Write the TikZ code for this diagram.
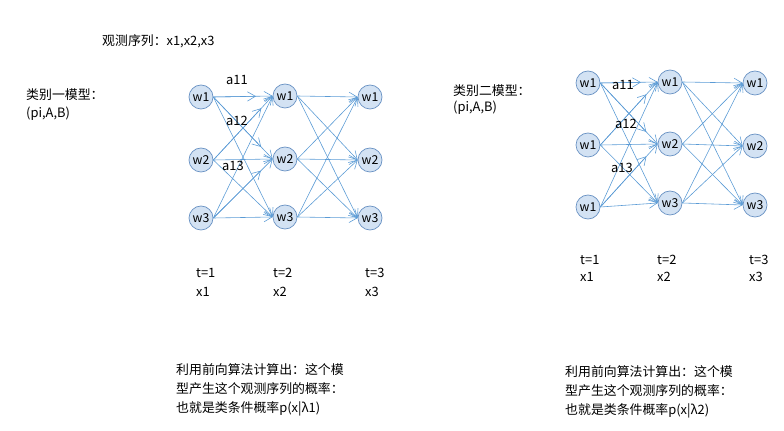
\documentclass[tikz,border=0pt]{standalone}
\usepackage{fontspec}
\setmainfont{Noto Sans CJK SC}
\usetikzlibrary{arrows.meta}
\definecolor{hmmline}{HTML}{5B9BD5}
\definecolor{hmmfill}{HTML}{D3E2F3}
\definecolor{hmmedge}{HTML}{6A93C4}

\tikzset{
  hmmstate/.style={circle, draw=hmmedge, fill=hmmfill, line width=0.6pt,
    minimum size=0.72cm, inner sep=0pt, font=\fontsize{10.5}{12}\selectfont},
  trans/.style={draw=hmmline, line width=0.5pt,
    -{Straight Barb[length=2.4mm,width=2.8mm]}},
  txt/.style={anchor=west, inner sep=0pt},
  note/.style={anchor=north west, inner sep=0pt, align=left,
    font=\fontsize{11}{16.4}\selectfont}
}

\begin{document}
\begin{tikzpicture}[x=0.03cm, y=-0.03cm, font=\fontsize{11}{14}\selectfont]
  \useasboundingbox (0,0) rectangle (784,431);

  % titles
  \node[txt] (obs) at (102,41) {观测序列：x1,x2,x3};
  \node[txt] (cls1) at (26,95) {类别一模型：};
  \node[txt] (par1) at (26,114) {(pi,A,B)};
  \node[txt] (cls2) at (453,91) {类别二模型：};
  \node[txt] (par2) at (453,108) {(pi,A,B)};

  % model 1 states
  \node[hmmstate] (La1) at (201,97) {w1};
  \node[hmmstate] (La2) at (201,160) {w2};
  \node[hmmstate] (La3) at (201,218) {w3};
  \node[hmmstate] (Lb1) at (285,96) {w1};
  \node[hmmstate] (Lb2) at (285,159) {w2};
  \node[hmmstate] (Lb3) at (285,217) {w3};
  \node[hmmstate] (Lc1) at (370,97) {w1};
  \node[hmmstate] (Lc2) at (370,160) {w2};
  \node[hmmstate] (Lc3) at (370,218) {w3};

  % model 2 states
  \node[hmmstate] (Ra1) at (588,83) {w1};
  \node[hmmstate] (Ra2) at (588,145) {w1};
  \node[hmmstate] (Ra3) at (588,207) {w1};
  \node[hmmstate] (Rb1) at (670,82) {w1};
  \node[hmmstate] (Rb2) at (670,144) {w2};
  \node[hmmstate] (Rb3) at (670,203) {w3};
  \node[hmmstate] (Rc1) at (755,83) {w1};
  \node[hmmstate] (Rc2) at (755,146) {w2};
  \node[hmmstate] (Rc3) at (755,205) {w3};

  % transitions
  \foreach \m in {L,R}{
    \foreach \i in {1,2,3}{
      \foreach \j in {1,2,3}{
        \draw[trans] (\m a\i.east) -- (\m b\j.west);
        \draw[trans] (\m b\i.east) -- (\m c\j.west);
      }
    }
    \foreach \i/\j in {1/1,2/1,1/2,3/2}
      \draw[trans, shorten >=0.5cm] (\m a\i.east) -- (\m b\j.west);
  }

  % transition labels
  \node (La11) at (237,80) {a11};
  \node (La12) at (237,121) {a12};
  \node (La13) at (233,166) {a13};
  \node (Ra11) at (623,85) {a11};
  \node (Ra12) at (626,124) {a12};
  \node (Ra13) at (622,168) {a13};

  % time steps
  \node[txt] (Lt1) at (196,273) {t=1};
  \node[txt] (Lx1) at (196,292) {x1};
  \node[txt] (Lt2) at (273,273) {t=2};
  \node[txt] (Lx2) at (273,292) {x2};
  \node[txt] (Lt3) at (365,273) {t=3};
  \node[txt] (Lx3) at (365,292) {x3};
  \node[txt] (Rt1) at (580,260) {t=1};
  \node[txt] (Rx1) at (580,277) {x1};
  \node[txt] (Rt2) at (657,260) {t=2};
  \node[txt] (Rx2) at (657,277) {x2};
  \node[txt] (Rt3) at (749,260) {t=3};
  \node[txt] (Rx3) at (749,277) {x3};

  % results
  \node[note] (res1) at (176,363)
    {利用前向算法计算出：这个模\\型产生这个观测序列的概率：\\也就是类条件概率p(x|λ1)};
  \node[note] (res2) at (565,365)
    {利用前向算法计算出：这个模\\型产生这个观测序列的概率：\\也就是类条件概率p(x|λ2)};
\end{tikzpicture}
\end{document}
